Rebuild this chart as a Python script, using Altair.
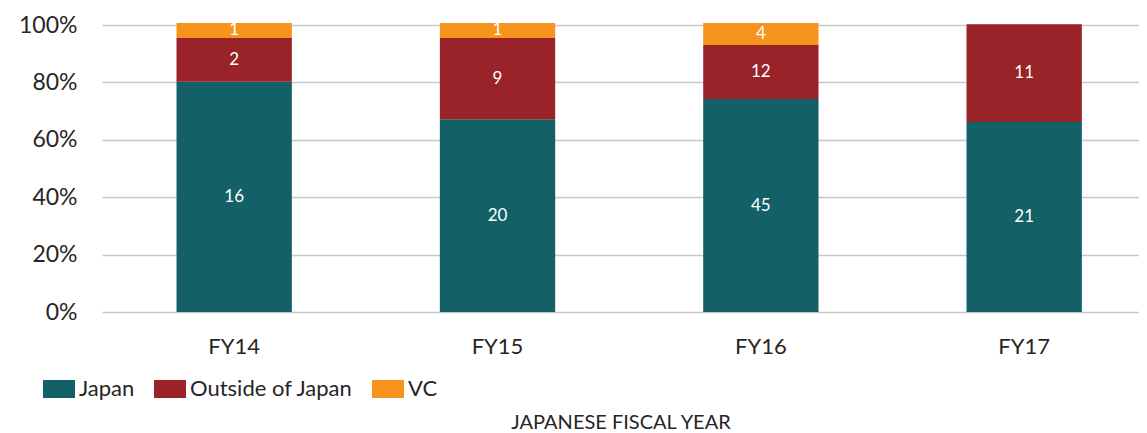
import altair as alt
import pandas as pd

years = ["FY14", "FY15", "FY16", "FY17"]
groups = ["Japan", "Outside of Japan", "VC"]
colors = ["#136067", "#9a2229", "#f7941d"]

# share of bar height
japan_share = [0.802, 0.672, 0.742, 0.662]
outside_share = [0.153, 0.283, 0.188, 0.341]
vc_share = [0.052, 0.052, 0.077, 0.0]

# counts printed on the segments
japan_count = [16, 20, 45, 21]
outside_count = [2, 9, 12, 11]
vc_count = [1, 1, 4, 0]

y_ticks = [0, 0.2, 0.4, 0.6, 0.8, 1.0]

rows = []
for gi, (g, shares, counts) in enumerate(zip(groups,
                                            [japan_share, outside_share, vc_share],
                                            [japan_count, outside_count, vc_count])):
    for yr, s, c in zip(years, shares, counts):
        rows.append({"year": yr, "group": g, "share": s, "count": c, "order": gi})
df = pd.DataFrame(rows)

FONT = "Lato"
TXT = "#262626"

base = alt.Chart(df).transform_filter(
    "datum.share > 0"
).transform_stack(
    stack="share", groupby=["year"], as_=["y0", "y1"], sort=[alt.SortField("order")]
).transform_calculate(mid="(datum.y0 + datum.y1) / 2")

x_scale = alt.Scale(paddingInner=0.562, paddingOuter=0.25, align=0.566)

x_enc = alt.X(
    "year:N",
    sort=years,
    scale=x_scale,
    axis=alt.Axis(
        title="JAPANESE FISCAL YEAR", labelAngle=0, labelFontSize=22, labelColor=TXT,
        labelFont=FONT, labelPadding=24, ticks=False, domain=False,
        titleFont=FONT, titleFontSize=20, titleFontWeight="normal", titleColor=TXT,
        titlePadding=55,
    ),
)

bars = base.mark_bar().encode(
    x=x_enc,
    y=alt.Y(
        "y0:Q",
        scale=alt.Scale(domain=[0, 1], nice=False, zero=True),
        axis=alt.Axis(
            title=None, values=y_ticks, format=".0%", labelFontSize=23, labelColor=TXT,
            labelFont=FONT, labelPadding=25, ticks=False, tickSize=0, domain=False,
            grid=True, gridColor="#c8c8c8", gridWidth=1.3,
        ),
    ),
    y2="y1:Q",
    color=alt.Color(
        "group:N",
        scale=alt.Scale(domain=groups, range=colors),
        legend=alt.Legend(
            title=None, orient="none", direction="horizontal", legendX=-59, legendY=348,
            symbolType="M-1,-0.5625H1V0.5625H-1Z", symbolSize=1024, symbolStrokeWidth=0,
            labelFont=FONT, labelFontSize=22, labelColor=TXT, labelOffset=4,
            columnPadding=19, labelLimit=400,
        ),
    ),
)

labels = base.mark_text(color="white", fontSize=17, font=FONT).encode(
    x=alt.X("year:N", sort=years, scale=x_scale),
    y=alt.Y("mid:Q"),
    text=alt.Text("count:Q"),
)

chart = alt.layer(bars, labels).properties(
    width=1037,
    height=287,
    autosize=alt.AutoSizeParams(type="none"),
    padding={"left": 94, "top": 17, "right": 0, "bottom": 121},
).configure_view(stroke=None)

chart.save("out.html", embed_options={"renderer": "svg", "actions": False})
